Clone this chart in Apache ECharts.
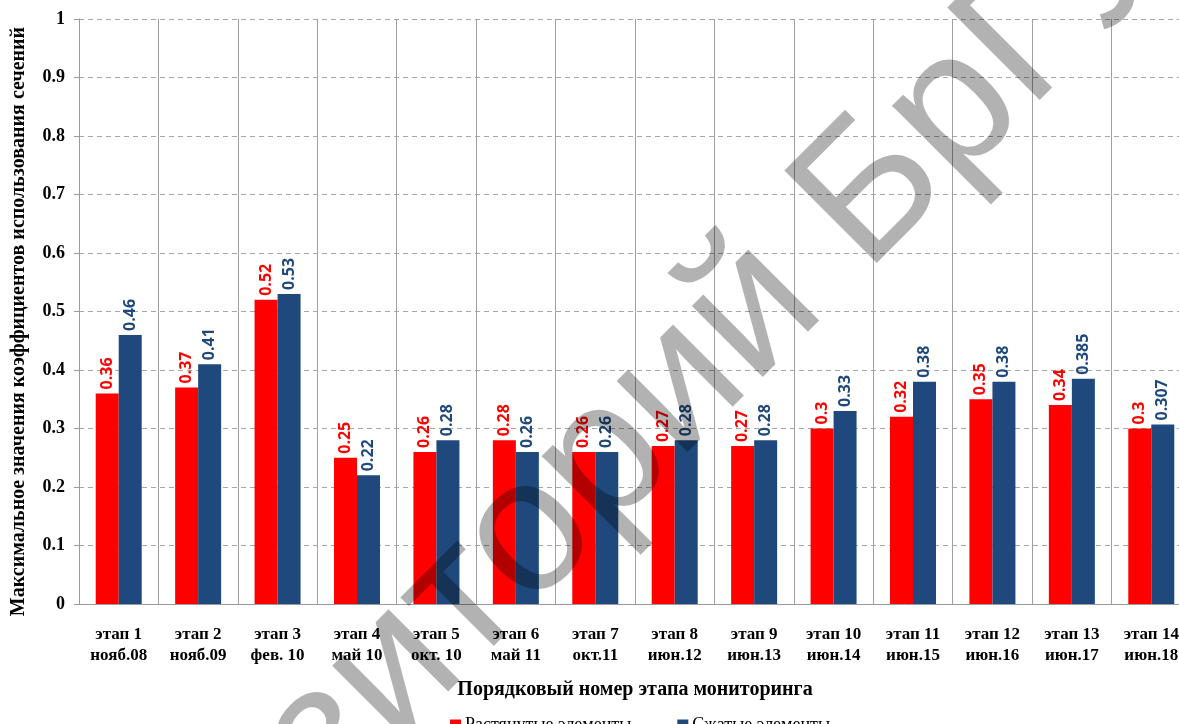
<!DOCTYPE html>
<html>
<head>
<meta charset="utf-8">
<script src="https://cdn.jsdelivr.net/npm/echarts@6/dist/echarts.min.js"></script>
<style>
    html, body {margin: 0; padding: 0; background: #fff;}
    #chart {width: 1179px; height: 724px;}
</style>
</head>
<body>
<div id="chart"></div>
<script>
// категории (этапы мониторинга)
var stages = ['этап 1\nнояб.08', 'этап 2\nнояб.09', 'этап 3\nфев. 10', 'этап 4\nмай 10',
    'этап 5\nокт. 10', 'этап 6\nмай 11', 'этап 7\nокт.11', 'этап 8\nиюн.12', 'этап 9\nиюн.13',
    'этап 10\nиюн.14', 'этап 11\nиюн.15', 'этап 12\nиюн.16', 'этап 13\nиюн.17', 'этап 14\nиюн.18'];
// растянутые элементы
var stretched = [0.36, 0.37, 0.52, 0.25, 0.26, 0.28, 0.26, 0.27, 0.27, 0.3, 0.32, 0.35, 0.34, 0.3];
// сжатые элементы
var compressed = [0.46, 0.41, 0.53, 0.22, 0.28, 0.26, 0.26, 0.28, 0.28, 0.33, 0.38, 0.38, 0.385, 0.307];
var yTicks = [0, 0.1, 0.2, 0.3, 0.4, 0.5, 0.6, 0.7, 0.8, 0.9, 1];

var serif = '"Liberation Serif", "Times New Roman", serif';
var sans = '"Open Sans", "Noto Sans", sans-serif';
var red = '#FF0000', blue = '#1F497D';

function barLabel(color) {
    return {
        show: true,
        position: 'top',
        rotate: 90,
        align: 'left',
        verticalAlign: 'middle',
        distance: 4,
        color: color,
        fontFamily: sans,
        fontWeight: 'bold',
        fontSize: 16
    };
}

var myChart = echarts.init(document.getElementById('chart'));
myChart.setOption({
    animation: false,
    // область построения уходит за правый край картинки
    grid: {left: 79, top: 19, width: 1112, height: 585, outerBoundsMode: 'none'},
    legend: {
        left: 445, top: 711,
        itemWidth: 11, itemHeight: 11, itemGap: 46,
        icon: 'rect',
        textStyle: {fontFamily: serif, fontSize: 18, color: '#000', padding: [0, 0, 0, -1]},
        data: ['Растянутые элементы', 'Сжатые элементы']
    },
    xAxis: {
        type: 'category',
        data: stages,
        name: 'Порядковый номер этапа мониторинга',
        nameLocation: 'middle',
        nameGap: 76,
        nameTextStyle: {fontFamily: serif, fontWeight: 'bold', fontSize: 20, color: '#000'},
        axisLine: {lineStyle: {color: '#9a9a9a'}},
        axisTick: {length: 6, lineStyle: {color: '#9a9a9a'}},
        axisLabel: {
            interval: 0, margin: 20, lineHeight: 21,
            fontFamily: serif, fontWeight: 'bold', fontSize: 17, color: '#000'
        },
        splitLine: {show: true, lineStyle: {color: '#a0a0a0', width: 1}}
    },
    yAxis: {
        type: 'value',
        min: 0, max: 1, interval: 0.1,
        name: 'Максимальное значения коэффициентов использования сечений',
        nameLocation: 'middle',
        nameGap: 50,
        nameTextStyle: {fontFamily: serif, fontWeight: 'bold', fontSize: 20, color: '#000', padding: [0, 20, 0, 0]},
        axisLine: {show: true, lineStyle: {color: '#9a9a9a'}},
        axisTick: {show: true, length: 5, lineStyle: {color: '#9a9a9a'}},
        axisLabel: {
            margin: 14,
            fontFamily: serif, fontWeight: 'bold', fontSize: 18, color: '#000',
            formatter: function (v) {
                // подписи шкалы из массива yTicks
                var t = yTicks.find(function (x) { return Math.abs(x - v) < 1e-9; });
                return t === undefined ? '' : String(t);
            }
        },
        splitLine: {lineStyle: {color: '#a6a6a6', type: [5, 4], width: 1}}
    },
    series: [
        {
            name: 'Растянутые элементы',
            type: 'bar',
            barWidth: 23,
            barGap: '0%',
            itemStyle: {color: red},
            label: barLabel(red),
            data: stretched
        },
        {
            name: 'Сжатые элементы',
            type: 'bar',
            barWidth: 23,
            barGap: '0%',
            itemStyle: {color: blue},
            label: barLabel(blue),
            data: compressed
        }
    ],
    // водяной знак
    graphic: [{
        type: 'text',
        silent: true,
        z: 100,
        x: 58, y: 1142,
        rotation: Math.PI / 4,
        style: {
            text: 'Репозиторий БрГУ',
            font: '190px "Liberation Sans", Arial, sans-serif',
            fill: 'rgba(0,0,0,0.3)',
            textAlign: 'left',
            textVerticalAlign: 'bottom'
        }
    }]
});
</script>
</body>
</html>
